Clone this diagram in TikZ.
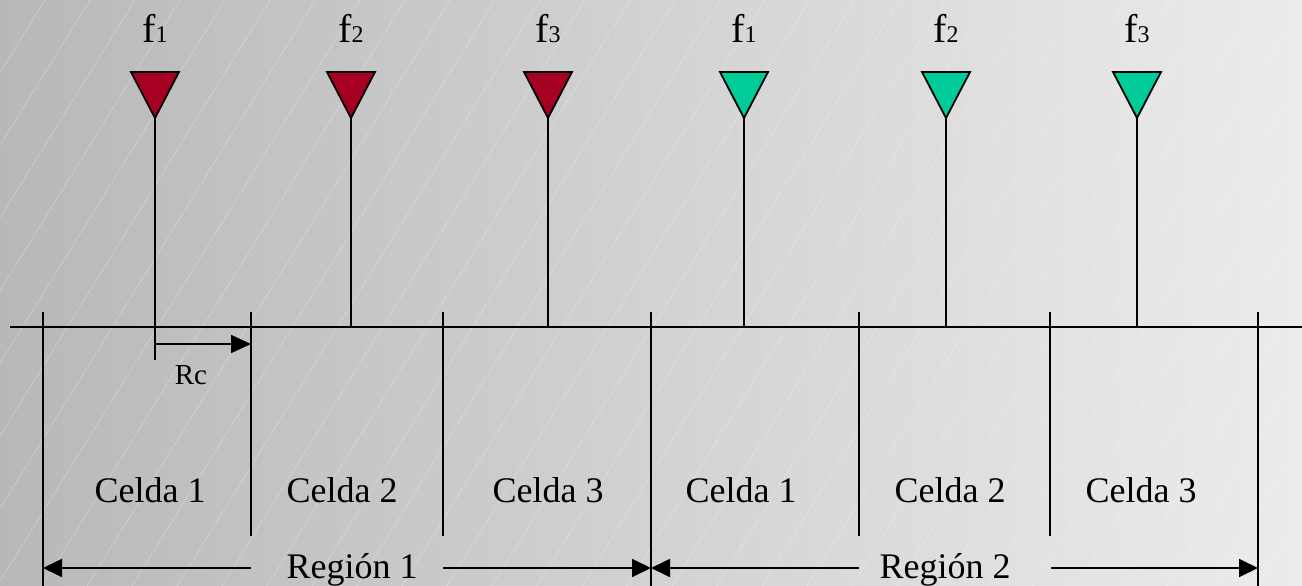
\documentclass[tikz,border=0pt]{standalone}
\usepackage{fontspec}
\setmainfont{Liberation Serif}
\usetikzlibrary{arrows.meta}
\definecolor{ared}{RGB}{165,0,33}
\definecolor{agreen}{RGB}{0,204,153}
\definecolor{bgl}{RGB}{184,184,184}
\definecolor{bgr}{RGB}{236,236,236}
\begin{document}
\begin{tikzpicture}[x=1pt,y=-1pt,
  ln/.style={line width=1.8pt,black},
  hatch/.style={white,opacity=0.3,line width=0.6pt},
  arr/.style={ln,-{Triangle[length=19pt,width=18pt]}},
  lbl/.style={inner sep=0pt,anchor=base,font=\fontsize{36}{36}\selectfont},
  flbl/.style={inner sep=0pt,anchor=base},
  ant/.style={line width=1.8pt,draw=black}]
\useasboundingbox (0,0) rectangle (1302,586);
\shade[left color=bgl,right color=bgr] (0,0) rectangle (1302,586);
\begin{scope}
\clip (0,0) rectangle (1302,586);
\foreach \i in {0,...,38} \draw[hatch] (\i*45,0) -- ++(-363,586);
\end{scope}
% axis
\coordinate (L) at (10,327);
\coordinate (R) at (1302,327);
\draw[ln] (L) -- (R);
% antennas
\foreach \x/\c/\n [count=\k] in {155/ared/1,351/ared/2,548/ared/3,744/agreen/1,946/agreen/2,1137/agreen/3}{
  \node[flbl] (f\k) at (\x,43) {\fontsize{40}{40}\selectfont f\fontsize{24}{24}\selectfont\n};
  \coordinate (t\k) at (\x,118);
  \coordinate (b\k) at (\x,327);
  \filldraw[ant,fill=\c] (\x-24,72) -- (\x+24,72) -- (t\k) -- cycle;
  \draw[ln] (t\k) -- (b\k);
}
% boundaries
\foreach \x [count=\k] in {43,651,1258}{
  \coordinate (rt\k) at (\x,312);
  \coordinate (rb\k) at (\x,586);
  \draw[ln] (rt\k) -- (rb\k);
}
\foreach \x [count=\k] in {251,443,859,1050}{
  \coordinate (ct\k) at (\x,312);
  \coordinate (cb\k) at (\x,536);
  \draw[ln] (ct\k) -- (cb\k);
}
% Rc
\coordinate (rc0) at (155,327);
\coordinate (rc1) at (155,360);
\coordinate (rcs) at (155,344);
\coordinate (rce) at (251,344);
\draw[ln] (rc0) -- (rc1);
\draw[ln,-{Triangle[length=20pt,width=18pt]}] (rcs) -- (rce);
\node[inner sep=0pt,anchor=base,font=\fontsize{29}{29}\selectfont] (rc) at (191,384) {Rc};
% cells
\foreach \x [count=\k] in {150,342,548,741,950,1141}{
  \pgfmathtruncatemacro{\m}{mod(\k-1,3)+1}
  \node[lbl] (c\k) at (\x,502) {Celda \m};
}
% regions
\node[lbl] (reg1) at (352,578) {Región 1};
\node[lbl] (reg2) at (945,578) {Región 2};
\coordinate (a1s) at (251,568);
\coordinate (a1e) at (43,568);
\coordinate (a2s) at (443,568);
\coordinate (a2e) at (651,568);
\coordinate (a3s) at (859,568);
\coordinate (a3e) at (651,568);
\coordinate (a4s) at (1051,568);
\coordinate (a4e) at (1258,568);
\draw[arr] (a1s) -- (a1e);
\draw[arr] (a2s) -- (a2e);
\draw[arr] (a3s) -- (a3e);
\draw[arr] (a4s) -- (a4e);
\end{tikzpicture}
\end{document}
